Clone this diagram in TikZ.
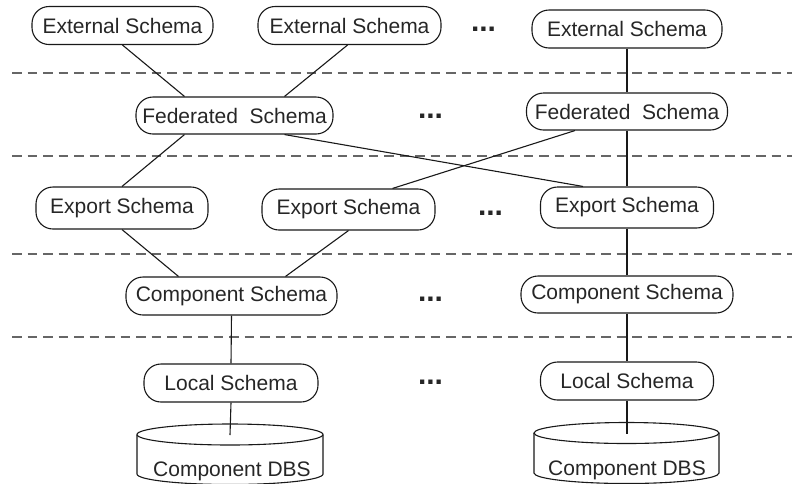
\documentclass[tikz,border=0pt]{standalone}
\usepackage{fontspec}
\setmainfont{Liberation Sans}
\begin{document}
\begin{tikzpicture}[x=1pt,y=-1pt,
  schema/.style={draw=black!90, line width=1.1pt, rounded corners=17pt,
    minimum height=38pt, inner sep=0pt, text=black!85,
    font=\fontsize{21}{24}\selectfont},
  link/.style={draw=black!90, line width=1.1pt},
  layer/.style={draw=black!60, line width=1.3pt, dash pattern=on 9.5pt off 6pt},
  more/.style={anchor=base, inner sep=0pt, text=black!85,
    font=\fontsize{30}{30}\selectfont\bfseries},
  dbs/.style={draw=black!90, line width=1.1pt}]
\useasboundingbox (0,0) rectangle (792,483);

% layer separators
\foreach \yy in {73,156,254,337}
  \draw[layer] (12,\yy) -- (792,\yy);

% schema nodes
\node[schema, minimum width=181pt] (ext1) at (122.5,25.5) {External Schema};
\node[schema, minimum width=183pt] (ext2) at (349.5,25.5) {External Schema};
\node[schema, minimum width=190pt] (ext3) at (627,29) {External Schema};

\node[schema, minimum width=197pt, minimum height=37pt] (fed1) at (234.5,115.5) {Federated\ \ Schema};
\node[schema, minimum width=201pt, minimum height=37pt] (fed2) at (627,111.5) {Federated\ \ Schema};

\node[schema, minimum width=172pt, minimum height=42pt] (exp1) at (122,208) {Export Schema};
\node[schema, minimum width=173pt, minimum height=41pt] (exp2) at (348.5,209.5) {Export Schema};
\node[schema, minimum width=173pt, minimum height=41pt] (exp3) at (627,207.5) {Export Schema};

\node[schema, minimum width=211pt] (comp1) at (231.5,296) {Component Schema};
\node[schema, minimum width=212pt, minimum height=37pt] (comp2) at (627,294.5) {Component Schema};

\node[schema, minimum width=174pt] (loc1) at (231,383) {Local Schema};
\node[schema, minimum width=173pt] (loc2) at (627,381) {Local Schema};

% ellipsis marks
\node[more] (m1) at (483.5,31) {...};
\node[more] (m2) at (430.5,118) {...};
\node[more] (m3) at (490.5,215) {...};
\node[more] (m4) at (430.5,301.5) {...};
\node[more] (m5) at (430.5,384.5) {...};

% component databases (cylinders)
\draw[dbs] (137,434.5) -- (137,474) arc[start angle=180, end angle=0, x radius=93, y radius=10.5]
  -- (323,434.5);
\draw[dbs] (230,434.5) ellipse[x radius=93, y radius=10.5];
\coordinate (db1) at (230,435);
\node[anchor=base, inner sep=0pt, text=black!85, font=\fontsize{21}{24}\selectfont] (dbs1) at (232,476) {Component DBS};

\draw[dbs] (534,433) -- (534,473) arc[start angle=180, end angle=0, x radius=92.5, y radius=10.5]
  -- (719,433);
\draw[dbs] (626.5,433) ellipse[x radius=92.5, y radius=10.5];
\coordinate (db2) at (627,434);
\node[anchor=base, inner sep=0pt, text=black!85, font=\fontsize{21}{24}\selectfont] (dbs2) at (627,475) {Component DBS};

% mappings between schema levels
\draw[link] (ext1.south) -- ([xshift=-50pt]fed1.north);
\draw[link] ([xshift=-2pt]ext2.south) -- ([xshift=50pt]fed1.north);
\draw[link] (ext3.south) -- (fed2.north);

\draw[link] ([xshift=-50pt]fed1.south) -- (exp1.north);
\draw[link] ([xshift=50pt]fed1.south) -- ([xshift=-44pt]exp3.north);
\draw[link] ([xshift=-52pt]fed2.south) -- ([xshift=44pt]exp2.north);
\draw[link] (fed2.south) -- (exp3.north);

\draw[link] (exp1.south) -- ([xshift=-53pt]comp1.north);
\draw[link] (exp2.south) -- ([xshift=54pt]comp1.north);
\draw[link] (exp3.south) -- (comp2.north);

\draw[link] (comp1.south) -- (loc1.north);
\draw[link] (comp2.south) -- (loc2.north);

\draw[link] (loc1.south) -- (db1);
\draw[link] (loc2.south) -- (db2);
\end{tikzpicture}
\end{document}
